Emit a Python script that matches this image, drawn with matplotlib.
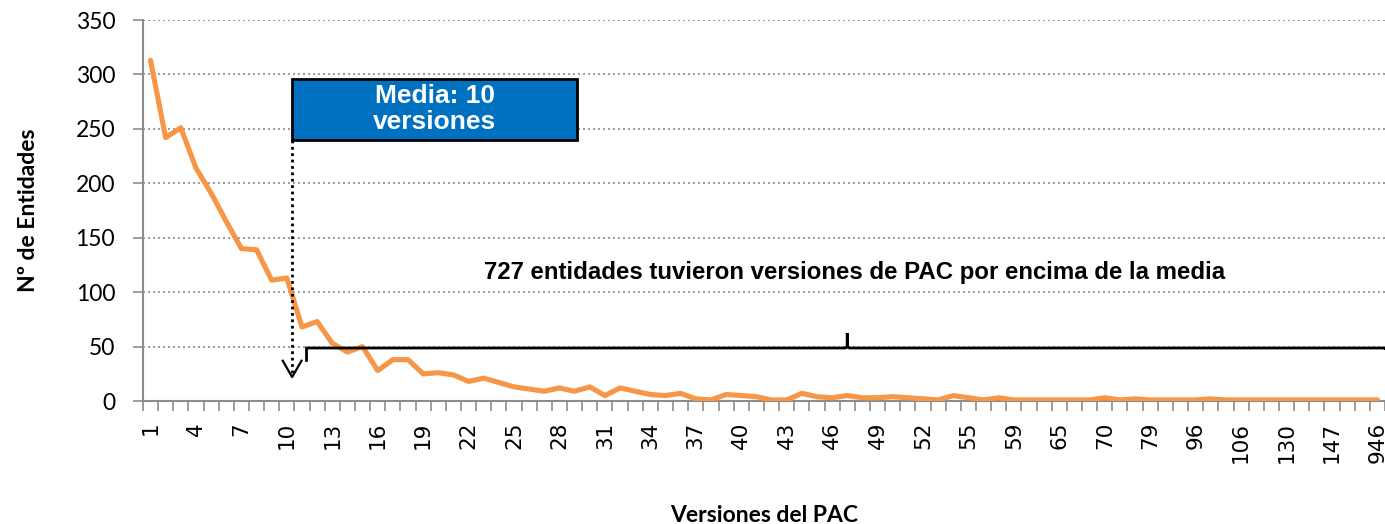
import matplotlib
matplotlib.use("Agg")
import matplotlib.pyplot as plt
from matplotlib.path import Path
from matplotlib.patches import PathPatch, Rectangle
from matplotlib.ticker import FixedLocator, NullFormatter

# ── data ─────────────────────────────────────────────────────────────────────
versions = list(range(1, 56)) + [
    56, 57, 59, 60, 62, 65, 66, 68, 70, 72, 75, 79, 83, 90, 96, 99,
    103, 106, 110, 120, 130, 135, 140, 147, 160, 200, 946,
]
entities = [
    313, 242, 251, 214, 191, 165, 140, 139, 111, 113,
    68, 73, 53, 45, 50, 28, 38, 38, 25, 26,
    24, 18, 21, 17, 13, 11, 9, 12, 9, 13,
    5, 12, 9, 6, 5, 7, 2, 1, 6, 5,
    4, 1, 1, 7, 4, 3, 5, 3, 3, 4,
    3, 2, 1, 5, 3, 1, 3, 1, 1, 1,
    1, 1, 1, 3, 1, 2, 1, 1, 1, 1,
    2, 1, 1, 1, 1, 1, 1, 1, 1, 1,
    1, 1,
]
mean_versions = 10
above_mean = 727

ORANGE = "#F79646"
BLUE = "#0070C0"
GREY = "#8C8C8C"

fig = plt.figure(figsize=(13.85, 5.24), dpi=100)
ax = fig.add_axes([0.1032, 0.2347, 0.8968, 0.7271])

x = list(range(len(versions)))
ax.plot(x, entities, color=ORANGE, lw=3.7, solid_joinstyle="round",
        solid_capstyle="round", zorder=4)

ax.set_xlim(-0.5, len(versions) - 0.5)
ax.set_ylim(0, 350)
ax.set_yticks(range(0, 351, 50))
ax.tick_params(axis="y", labelsize=16.5, length=7, width=1.2, color=GREY, pad=13)
for lab in ax.get_yticklabels():
    lab.set_family("Lato")

# category labels every 3rd, ticks between categories
ax.set_xticks(x[::3])
ax.set_xticklabels([str(v) for v in versions[::3]], rotation=90,
                   fontsize=15.5, family="DejaVu Sans")
ax.tick_params(axis="x", length=0, pad=15)
ax.xaxis.set_minor_locator(FixedLocator([i - 0.5 for i in range(len(versions) + 1)]))
ax.xaxis.set_minor_formatter(NullFormatter())
ax.tick_params(axis="x", which="minor", length=7, width=1.2, color=GREY)

ax.grid(axis="y", color=GREY, linestyle=(0, (1.2, 1.8)), lw=1.2)
ax.set_axisbelow(True)
for s in ("top", "right"):
    ax.spines[s].set_visible(False)
for s in ("left", "bottom"):
    ax.spines[s].set_color(GREY)
    ax.spines[s].set_linewidth(1.5)

ax.set_ylabel("Nº de Entidades", fontsize=16.5, fontweight="bold",
              family="Lato", labelpad=26)
ax.set_xlabel("Versiones del PAC", fontsize=16.5, fontweight="bold",
              family="Lato", labelpad=30)

# ── mean annotation ─────────────────────────────────────────────────────────
mx = versions.index(mean_versions) + 0.35
ax.add_patch(Rectangle((mx, 240), 18.8, 56, facecolor=BLUE, edgecolor="black",
                       lw=2, zorder=5))
ax.text(mx + 9.4, 268, f"Media: {mean_versions}\nversiones", color="white",
        fontsize=19, fontweight="bold", family="Liberation Sans",
        ha="center", va="center", linespacing=1.1, zorder=6)
ax.plot([mx, mx], [240, 24], color="black", lw=2, linestyle=(0, (1, 1.3)),
        zorder=5)
ax.plot([mx - 0.62, mx, mx + 0.62], [37, 22, 37], color="black", lw=1.6,
        zorder=5)

# ── brace over entities above the mean ─────────────────────────────────────
bx0, bx1, bmid = mx + 0.95, len(versions) - 0.45, 46.0
by, ytop, ybot = 48.7, 62.5, 36
verts = [
    (bx0, ybot), (bx0, by), (bx0, by), (bx0 + 0.4, by),
    (bmid - 0.2, by), (bmid, by), (bmid, by + 2), (bmid, ytop),
    (bmid, by + 2), (bmid, by), (bmid + 0.2, by),
    (bx1 - 0.2, by), (bx1, by), (bx1, by - 1.5),
]
codes = [Path.MOVETO, Path.LINETO, Path.CURVE3, Path.CURVE3,
         Path.LINETO, Path.CURVE3, Path.CURVE3, Path.LINETO,
         Path.LINETO, Path.CURVE3, Path.CURVE3,
         Path.LINETO, Path.CURVE3, Path.CURVE3]
ax.add_patch(PathPatch(Path(verts, codes), facecolor="none", edgecolor="black",
                       lw=2, zorder=5, clip_on=False))
ax.text(46.5, 118.5,
        f"{above_mean} entidades tuvieron versiones de PAC por encima de la media",
        fontsize=17.3, fontweight="bold", family="Liberation Sans",
        ha="center", va="center", zorder=6)

fig.savefig("out.png", dpi=100)
